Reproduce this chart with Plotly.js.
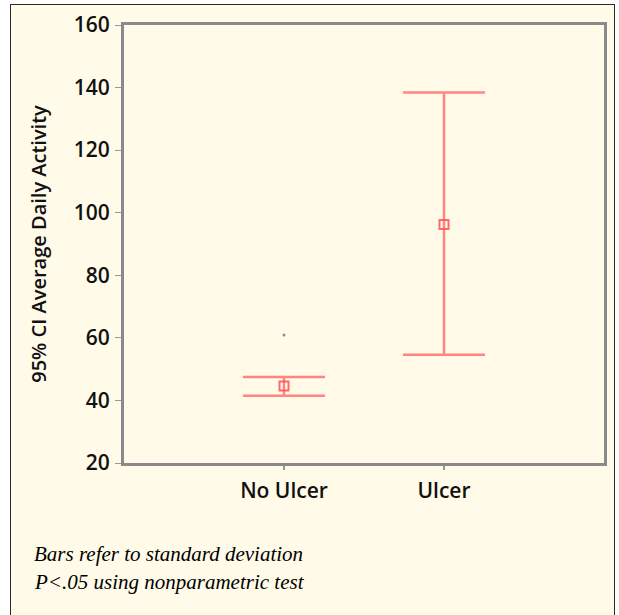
<!DOCTYPE html>
<html>
<head>
<meta charset="utf-8">
<script src="https://cdn.plot.ly/plotly-3.0.1.min.js"></script>
<style>
  html, body { margin: 0; padding: 0; background: #ffffff; width: 619px; height: 615px; overflow: hidden; }
  #frame { position: absolute; left: 10px; top: 3.5px; width: 605px; height: 640px;
           border: 1.5px solid #2a2a2a; background: #fffbe8; box-sizing: border-box; }
  #chart { position: absolute; left: 0; top: 0; width: 619px; height: 615px; }
</style>
</head>
<body>
<div id="frame"></div>
<div id="chart"></div>
<script>
// ---- data ----
const categories = ["No Ulcer", "Ulcer"];
const means      = [44.6, 96.2];
const upperBars  = [47.5, 138.4];
const lowerBars  = [41.5, 54.6];
const outlierCat = ["No Ulcer"];
const outlierVal = [60.9];
const yTicks     = [20, 40, 60, 80, 100, 120, 140, 160];
const footnotes  = ["Bars refer to standard deviation", "P<.05 using nonparametric test"];

const W = 619, H = 615;
const M = { l: 124, r: 14.5, t: 25, b: 151.5 };
const pw = W - M.l - M.r, ph = H - M.t - M.b;
const px2x = p => (p - M.l) / pw;
const py2y = p => (H - M.b - p) / ph;

const errColor = "rgba(255,95,95,0.75)";
const sans = "'Open Sans', 'Liberation Sans', sans-serif";

const traces = [
  {
    type: "scatter", mode: "markers",
    x: categories, y: means,
    marker: { symbol: "square-open", size: 9, color: "rgba(255,80,80,0.85)", line: { width: 2 } },
    error_y: {
      type: "data", symmetric: false,
      array: upperBars.map((u, i) => u - means[i]),
      arrayminus: lowerBars.map((l, i) => means[i] - l),
      color: errColor, thickness: 2.5, width: 41
    },
    hoverinfo: "skip", showlegend: false
  },
  {
    type: "scatter", mode: "markers",
    x: outlierCat, y: outlierVal,
    marker: { symbol: "circle", size: 3, color: "#8a8aa8" },
    hoverinfo: "skip", showlegend: false
  }
];

const layout = {
  width: W, height: H,
  margin: M,
  paper_bgcolor: "rgba(0,0,0,0)",
  plot_bgcolor: "rgba(0,0,0,0)",
  showlegend: false,
  font: { family: sans, color: "#111" },
  xaxis: {
    type: "category", range: [-1, 2],
    showgrid: false, zeroline: false,
    showline: true, linecolor: "#8a8a8a", linewidth: 3, mirror: true,
    ticks: "outside", ticklen: 4, tickwidth: 1.5, tickcolor: "#999",
    ticklabelstandoff: 3,
    tickfont: { size: 21, family: sans, weight: 600, color: "#111" }
  },
  yaxis: {
    range: [20, 160],
    tickvals: yTicks, ticktext: yTicks.map(String),
    showgrid: false, zeroline: false,
    showline: true, linecolor: "#8a8a8a", linewidth: 3, mirror: true,
    ticks: "outside", ticklen: 6, tickwidth: 1, tickcolor: "#999",
    ticklabelstandoff: 1,
    tickfont: { size: 21, family: sans, weight: 600, color: "#111" },
    title: {
      text: "95% CI Average Daily Activity", standoff: 22,
      font: { size: 20, family: sans, weight: 600, color: "#111" }
    },
    automargin: false
  },
  annotations: footnotes.map((t, i) => ({
    text: t, xref: "paper", yref: "paper",
    x: px2x(32), y: py2y(555 + i * 28),
    xanchor: "left", yanchor: "middle", showarrow: false,
    font: { family: "'Liberation Serif', 'DejaVu Serif', serif", size: 21, style: "italic", color: "#000" }
  }))
};

Plotly.newPlot("chart", traces, layout, { displayModeBar: false, staticPlot: true });
</script>
</body>
</html>
